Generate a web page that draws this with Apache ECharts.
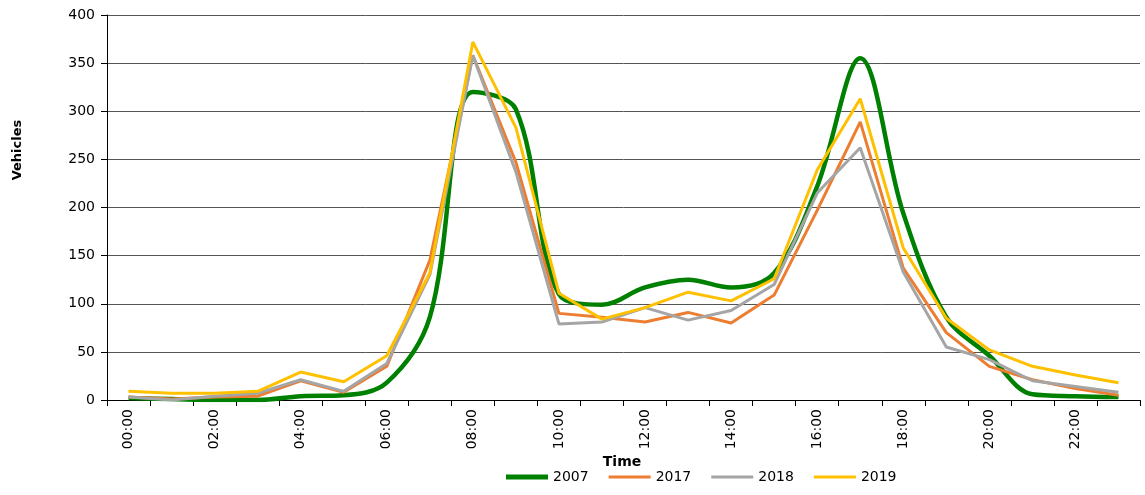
<!DOCTYPE html>
<html>
<head>
<meta charset="utf-8">
<script src="https://cdn.jsdelivr.net/npm/echarts@6/dist/echarts.min.js"></script>
<style>html,body{margin:0;padding:0;background:#fff}#c{width:1145px;height:495px}</style>
</head>
<body>
<div id="c"></div>
<script>
var hours = ['00:00','01:00','02:00','03:00','04:00','05:00','06:00','07:00','08:00','09:00','10:00','11:00','12:00','13:00','14:00','15:00','16:00','17:00','18:00','19:00','20:00','21:00','22:00','23:00'];
var s2007 = [2,1,0,0,4,5,18,86,320,302,110,99,117,125,117,132,222,355,194,86,46,6,4,3];
var s2017 = [3,1,3,4,20,8,35,145,358,247,90,86,81,91,80,109,197,289,137,70,35,21,12,5];
var s2018 = [3,0,4,7,21,9,38,130,358,237,79,81,96,83,93,120,215,262,133,55,42,20,14,8];
var s2019 = [9,7,7,9,29,19,46,132,372,283,111,84,96,112,103,126,239,313,158,85,52,35,26,18];
var yTicks = {min:0, max:400, interval:50};
var FONT = 'DejaVu Sans';

var chart = echarts.init(document.getElementById('c'), null, {renderer:'canvas'});
function ser(name, data, color, width, smooth){
  return {name:name, type:'line', data:data, smooth:smooth, symbol:'none',
    lineStyle:{color:color, width:width}, itemStyle:{color:color}, z: 2};
}
chart.setOption({
  animation:false,
  textStyle:{fontFamily:FONT},
  grid:{left:107, right:5, top:15, bottom:95, containLabel:false},
  legend:{top:470, left:506, padding:0, itemWidth:42, itemHeight:14, itemGap:20, icon:'rect',
    textStyle:{fontFamily:FONT, fontSize:14, color:'#000'},
    data:[{name:'2007', icon:'path://M0,4.5L42,4.5L42,9.5L0,9.5Z'},
          {name:'2017', icon:'path://M0,5.5L42,5.5L42,8.5L0,8.5Z'},
          {name:'2018', icon:'path://M0,5.5L42,5.5L42,8.5L0,8.5Z'},
          {name:'2019', icon:'path://M0,5.5L42,5.5L42,8.5L0,8.5Z'}]},
  xAxis:{type:'category', data:hours, boundaryGap:true,
    axisLine:{lineStyle:{color:'#000', width:1}},
    axisTick:{show:true, interval:0, length:6, inside:false, lineStyle:{color:'#000'}},
    axisLabel:{interval:1, rotate:90, color:'#000', fontSize:14, fontFamily:FONT, margin:9},
    splitLine:{show:false}},
  yAxis:{type:'value', min:yTicks.min, max:yTicks.max, interval:yTicks.interval,
    axisLine:{show:true, lineStyle:{color:'#000', width:1}},
    axisTick:{show:true, length:6, lineStyle:{color:'#000'}},
    axisLabel:{color:'#000', fontSize:14, fontFamily:FONT, margin:12},
    splitLine:{show:true, lineStyle:{color:'#555', width:1}}},
  graphic:[
    {type:'text', x:18, y:150, rotation:Math.PI/2,
     style:{text:'Vehicles', font:'bold 13px "DejaVu Sans"', fill:'#000', textAlign:'center', textVerticalAlign:'middle'}},
    {type:'text', x:622, y:462,
     style:{text:'Time', font:'bold 14px "DejaVu Sans"', fill:'#000', textAlign:'center', textVerticalAlign:'middle'}}
  ],
  series:[
    ser('2007', s2007, '#008000', 4.5, 0.35),
    ser('2017', s2017, '#ED7D31', 3, false),
    ser('2018', s2018, '#A5A5A5', 3, false),
    ser('2019', s2019, '#FFC000', 3, false)
  ]
});
</script>
</body>
</html>
